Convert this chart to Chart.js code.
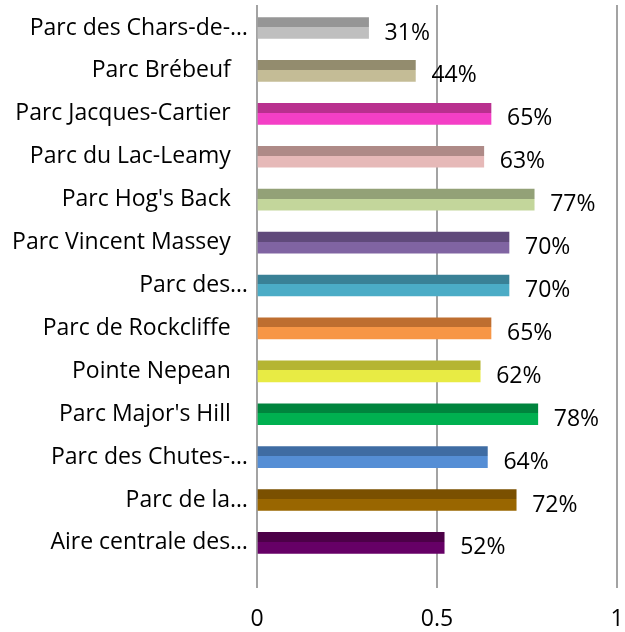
<!DOCTYPE html>
<html>
<head>
<meta charset="utf-8">
<script src="https://cdn.jsdelivr.net/npm/chart.js@4/dist/chart.umd.min.js"></script>
<style>
  html, body { margin: 0; padding: 0; background: #ffffff; }
  #wrap { width: 625px; height: 632px; position: relative; }
</style>
</head>
<body>
<div id="wrap"><canvas id="c"></canvas></div>
<script>
const categories = [
  "Parc des Chars-de-\u2026",
  "Parc Br\u00e9beuf",
  "Parc Jacques-Cartier",
  "Parc du Lac-Leamy",
  "Parc Hog's Back",
  "Parc Vincent Massey",
  "Parc des\u2026",
  "Parc de Rockcliffe",
  "Pointe Nepean",
  "Parc Major's Hill",
  "Parc des Chutes-\u2026",
  "Parc de la\u2026",
  "Aire centrale des\u2026"
];
const values = [0.31, 0.44, 0.65, 0.63, 0.77, 0.70, 0.70, 0.65, 0.62, 0.78, 0.64, 0.72, 0.52];
const xTicks = [0, 0.5, 1];

const darkColors = ["#969696", "#938c6e", "#b9308f", "#ae8a87", "#93a177", "#604a7b", "#398196", "#be6e30", "#b5b532", "#00843d", "#3f6ca3", "#7a5000", "#4c0047"];
const lightColors = ["#bfbfbf", "#c4bc96", "#f43fc6", "#e6b9b8", "#c3d69b", "#8064a2", "#4bacc6", "#f79646", "#e8eb44", "#00b050", "#558ed5", "#996600", "#660066"];

const FONT = "'Open Sans', sans-serif";
const FS = 23;
const BAR_T = 21;

const labelPlugin = {
  id: 'valueLabels',
  afterDatasetsDraw(chart) {
    const ctx = chart.ctx;
    const meta = chart.getDatasetMeta(0);
    ctx.save();
    ctx.font = FS + "px " + FONT;
    ctx.fillStyle = "#000000";
    ctx.textAlign = "left";
    ctx.textBaseline = "middle";
    meta.data.forEach((el, i) => {
      const v = chart.data.datasets[0].data[i].x;
      ctx.fillText(Math.round(v * 100) + "%", el.x + 16, el.y + 5);
    });
    ctx.restore();
  }
};

new Chart(document.getElementById('c'), {
  type: 'bar',
  data: {
    datasets: [{
      data: values.map((v, i) => ({ x: v, y: i })),
      barThickness: BAR_T,
      borderWidth: 0,
      backgroundColor: (c) => {
        const chart = c.chart;
        const ys = chart.scales && chart.scales.y;
        if (c.type !== 'data' || !ys) return lightColors[c.index] || '#ccc';
        const yc = ys.getPixelForValue(c.index);
        if (!isFinite(yc)) return lightColors[c.index];
        const g = chart.ctx.createLinearGradient(0, yc - BAR_T / 2, 0, yc + BAR_T / 2);
        g.addColorStop(0, darkColors[c.index]);
        g.addColorStop(0.45, darkColors[c.index]);
        g.addColorStop(0.45, lightColors[c.index]);
        g.addColorStop(1, lightColors[c.index]);
        return g;
      }
    }]
  },
  options: {
    indexAxis: 'y',
    responsive: true,
    maintainAspectRatio: false,
    animation: false,
    layout: { padding: { top: 5, right: 8, left: 0, bottom: 0 } },
    plugins: { legend: { display: false }, tooltip: { enabled: false } },
    scales: {
      x: {
        type: 'linear',
        min: 0, max: 1,
        afterBuildTicks: (axis) => { axis.ticks = xTicks.map(v => ({ value: v })); },
        afterFit: (axis) => { axis.height = 44; axis.paddingLeft = 0; axis.paddingRight = 0; },
        grid: { display: true, color: '#a3a3a3', lineWidth: 2, drawTicks: false },
        border: { display: false },
        ticks: {
          color: '#000', font: { family: FONT, size: FS }, padding: 18,
          callback: (v) => String(v)
        }
      },
      y: {
        type: 'linear',
        reverse: true,
        offset: false,
        min: -0.536, max: 13.05,
        afterBuildTicks: (axis) => { axis.ticks = categories.map((c, i) => ({ value: i })); },
        afterFit: (axis) => { axis.width = 257; axis.paddingTop = 0; axis.paddingBottom = 0; },
        grid: { display: false, drawTicks: false },
        border: { display: false },
        ticks: {
          color: '#000',
          font: { family: FONT, size: FS },
          padding: 9,
          autoSkip: false,
          callback: (v) => {
            const s = categories[v];
            if (s === undefined) return '';
            return s.endsWith('\u2026') ? s : s + '\u2002\u2005';
          }
        }
      }
    }
  },
  plugins: [labelPlugin]
});
</script>
</body>
</html>
